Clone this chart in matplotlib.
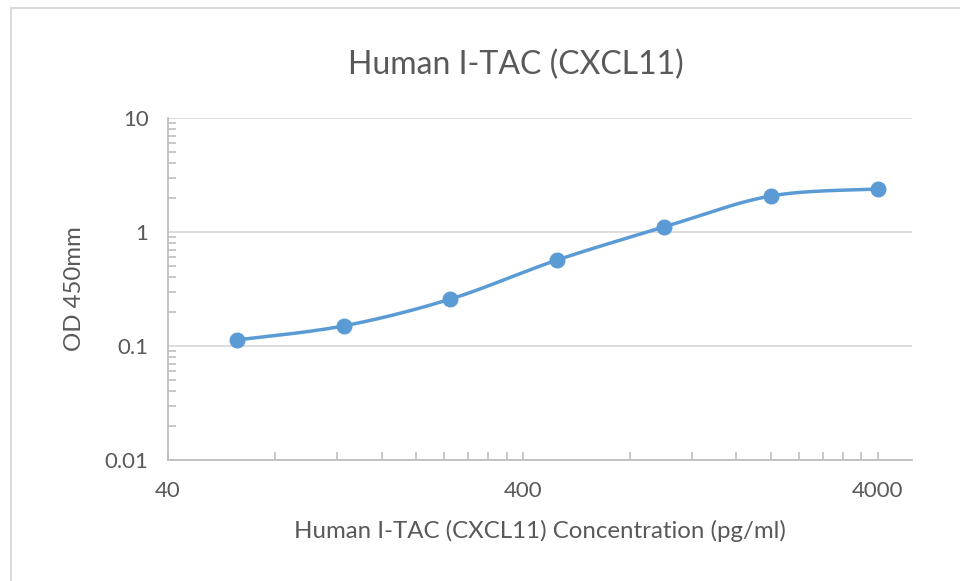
import numpy as np
import matplotlib.pyplot as plt
from matplotlib.patches import Rectangle
from matplotlib.ticker import FixedLocator, NullFormatter

plt.rcParams['font.family'] = ['Lato', 'DejaVu Sans']

conc = [62.5, 125, 250, 500, 1000, 2000, 4000]
od = [0.113, 0.150, 0.258, 0.568, 1.106, 2.07, 2.38]

x_ticks = [40, 400, 4000]
y_ticks = [0.01, 0.1, 1, 10]

blue = '#5B9BD5'
grey_text = '#595959'
grid_col = '#D9D9D9'


def smooth(xs, ys, n=40):
    # Catmull-Rom through the points, in log space (like Excel smoothed line)
    lx = np.log10(xs)
    ly = np.log10(ys)
    px = np.concatenate([[lx[0]], lx, [lx[-1]]])
    py = np.concatenate([[ly[0]], ly, [ly[-1]]])
    outx, outy = [], []
    t = np.linspace(0, 1, n)
    for i in range(1, len(px) - 2):
        for p, out in ((px, outx), (py, outy)):
            p0, p1, p2, p3 = p[i - 1], p[i], p[i + 1], p[i + 2]
            m1 = (p2 - p0) / 2
            m2 = (p3 - p1) / 2
            h00 = 2 * t**3 - 3 * t**2 + 1
            h10 = t**3 - 2 * t**2 + t
            h01 = -2 * t**3 + 3 * t**2
            h11 = t**3 - t**2
            out.extend(h00 * p1 + h10 * m1 + h01 * p2 + h11 * m2)
    return 10 ** np.array(outx), 10 ** np.array(outy)


fig = plt.figure(figsize=(9.6, 5.81), dpi=100)
ax = fig.add_axes([168 / 960, 1 - 460 / 581, 744 / 960, 342 / 581])

sx, sy = smooth(conc, od)
ax.plot(sx, sy, color=blue, lw=2.5, solid_capstyle='round', zorder=3)
ax.plot(conc, od, 'o', color=blue, ms=10.5, zorder=4)

ax.set_xscale('log')
ax.set_yscale('log')
ax.set_xlim(40, 5000)
ax.set_ylim(0.01, 10)

ax.xaxis.set_major_locator(FixedLocator(x_ticks))
ax.set_xticklabels([str(v) for v in x_ticks])
ax.xaxis.set_minor_locator(FixedLocator([40 * k for k in range(2, 10)] + [400 * k for k in range(2, 10)]))
ax.xaxis.set_minor_formatter(NullFormatter())

ax.yaxis.set_major_locator(FixedLocator(y_ticks))
ax.set_yticklabels(['0.01', '0.1', '1', '10'])
ax.yaxis.set_minor_locator(FixedLocator([d * k for d in (0.01, 0.1, 1) for k in range(2, 10)]))
ax.yaxis.set_minor_formatter(NullFormatter())

ax.grid(axis='y', which='major', color=grid_col, lw=1.3)
ax.set_axisbelow(True)
for s in ('top', 'right'):
    ax.spines[s].set_visible(False)
for s in ('left', 'bottom'):
    ax.spines[s].set_color('#BFBFBF')
    ax.spines[s].set_linewidth(1.3)

ax.tick_params(axis='both', which='both', direction='in', color='#BFBFBF', width=1.2, labelcolor=grey_text, labelsize=16)
ax.tick_params(axis='y', which='major', length=0, pad=14)
ax.tick_params(axis='y', which='minor', length=6)
ax.tick_params(axis='x', which='major', length=6, pad=15)
ax.tick_params(axis='x', which='minor', length=6)

ax.set_xlabel('Human I-TAC (CXCL11) Concentration (pg/ml)', fontsize=17.3, color=grey_text, labelpad=14)
ax.set_ylabel('OD 450mm', fontsize=17.3, color=grey_text, labelpad=14)
fig.text(516 / 960, 1 - 65 / 581, 'Human I-TAC (CXCL11)', fontsize=23, color=grey_text, ha='center', va='center')

fig.patches.append(Rectangle((11 / 960, -0.1), 1.2, 1.1 - 8 / 581, transform=fig.transFigure,
                             fill=False, edgecolor='#D9D9D9', lw=1.5))

fig.savefig('out.png', dpi=100)
